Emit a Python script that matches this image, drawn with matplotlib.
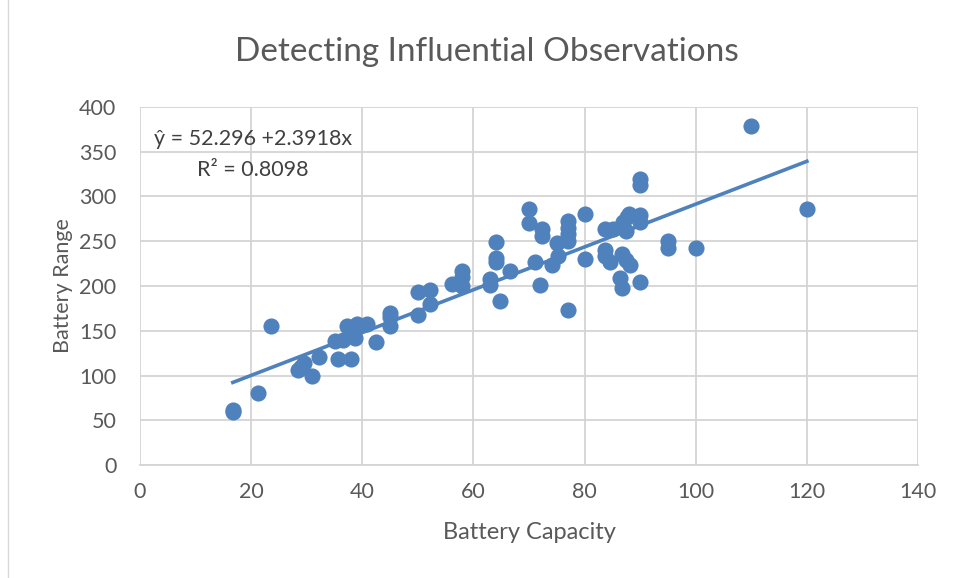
import numpy as np
import matplotlib
matplotlib.use("Agg")
import matplotlib.pyplot as plt

# battery capacity (kWh) and range
capacity = [16.7, 16.7, 21.3, 23.6, 28.5, 29.0, 29.5, 31.0, 32.3, 35.1,
            35.7, 36.5, 37.2, 38.0, 38.5, 38.7, 39.0, 40.8, 42.5, 45.0,
            45.0, 45.0, 50.1, 50.0, 52.2, 52.2, 56.1, 58.0, 58.0, 58.0,
            63.0, 63.0, 64.0, 64.0, 64.0, 64.8, 66.6, 70.0, 70.0, 71.1,
            72.0, 72.4, 72.4, 74.1, 75.0, 75.3, 77.1, 77.1, 77.1, 77.1,
            77.1, 80.1, 80.1, 83.7, 83.7, 83.7, 84.6, 85.2, 86.7, 87.0,
            87.4, 87.6, 88.0, 86.4, 86.7, 88.2, 87.4, 90.0, 90.0, 90.0,
            90.0, 90.0, 95.1, 95.1, 100.0, 110.0, 120.0]
battery_range = [62, 59, 81, 155, 106, 110, 114, 99, 121, 139,
                 118, 140, 155, 118, 150, 142, 158, 158, 137, 170,
                 165, 155, 193, 168, 196, 180, 202, 217, 210, 200,
                 208, 201, 249, 231, 227, 183, 217, 286, 270, 227,
                 201, 264, 256, 223, 248, 233, 273, 265, 258, 250,
                 173, 280, 230, 264, 240, 233, 227, 264, 236, 272,
                 261, 277, 281, 209, 198, 224, 229, 205, 279, 272,
                 320, 313, 250, 242, 242, 379, 286]

intercept = 52.296
slope = 2.3918
r_squared = 0.8098

blue = "#4F81BD"
grey_text = "#595959"

plt.rcParams["font.family"] = ["Lato", "DejaVu Sans"]

fig = plt.figure(figsize=(9.59, 5.78), dpi=100)
ax = fig.add_axes([140/959, 1 - 465/578, 778/959, 358/578])

ax.scatter(capacity, battery_range, s=135, color=blue, zorder=3, linewidths=0)

xs = np.array([min(capacity), max(capacity)])
ax.plot(xs, intercept + slope*xs, color=blue, lw=2.6, zorder=2)

ax.set_xlim(0, 140)
ax.set_ylim(0, 400)
ax.set_xticks(np.arange(0, 141, 20))
ax.set_yticks(np.arange(0, 401, 50))
ax.grid(True, color="#D4D4D4", lw=1.3, zorder=0)
ax.set_axisbelow(True)
for side in ["top", "right", "left"]:
    ax.spines[side].set_visible(False)
ax.spines["bottom"].set_color("#D4D4D4")
ax.spines["bottom"].set_linewidth(1.3)
ax.tick_params(length=0, labelsize=15.5, labelcolor=grey_text)
ax.tick_params(axis="x", pad=12.5)
ax.tick_params(axis="y", pad=17)

ax.set_xlabel("Battery Capacity", fontsize=17, color=grey_text, labelpad=14)
ax.set_ylabel("Battery Range", fontsize=15.5, color=grey_text, labelpad=4)
fig.text(487/959, 1 - 52/578, "Detecting Influential Observations",
         ha="center", va="center", fontsize=24, color=grey_text)

ax.text(253/959, 1 - 139/578, f"ŷ = {intercept} +{slope}x", transform=fig.transFigure,
        ha="center", va="center", fontsize=15.5, color="#404040")
ax.text(253/959, 1 - 170/578, f"R² = {r_squared}", transform=fig.transFigure,
        ha="center", va="center", fontsize=15.5, color="#404040")

# light frame around the chart area
fig.patches.append(plt.Rectangle((8/959, -0.01), 1, 1.02, transform=fig.transFigure,
                                 fill=False, edgecolor="#D9D9D9", lw=1))

fig.savefig("out.png", dpi=100)
